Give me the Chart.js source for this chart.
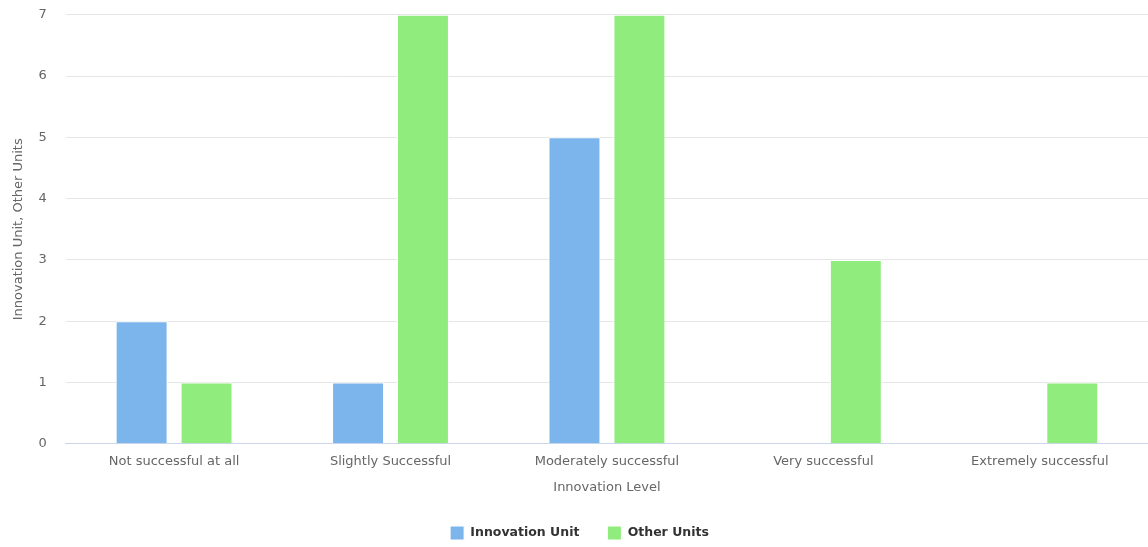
<!DOCTYPE html>
<html>
<head>
<meta charset="utf-8">
<title>Innovation Level</title>
<script src="https://cdn.jsdelivr.net/npm/chart.js@4"></script>
<style>
    html, body { margin: 0; padding: 0; background: #ffffff; }
    #wrap { width: 1148px; height: 547px; overflow: hidden; position: relative; }
    /* canvas overhangs the frame a little so the gridlines and legend sit where they should */
    #inner { position: absolute; left: 0; top: -12px; width: 1148px; height: 562px; }
</style>
</head>
<body>
<div id="wrap"><div id="inner"><canvas id="levelChart"></canvas></div></div>
<script>
// Responses per success level
const levels = ['Not successful at all', 'Slightly Successful', 'Moderately successful', 'Very successful', 'Extremely successful'];
const innovationUnit = [2, 1, 5, 0, 0];
const otherUnits = [1, 7, 7, 3, 1];
const yTicks = [0, 1, 2, 3, 4, 5, 6, 7];

const fontFamily = '"DejaVu Sans", "Open Sans", sans-serif';

const ctx = document.getElementById('levelChart');

new Chart(ctx, {
    type: 'bar',
    data: {
        labels: levels,
        datasets: [
            {
                label: 'Innovation Unit',
                data: innovationUnit,
                backgroundColor: '#7cb5ec',
                borderColor: '#ffffff',
                borderWidth: 1
            },
            {
                label: 'Other Units',
                data: otherUnits,
                backgroundColor: '#90ed7d',
                borderColor: '#ffffff',
                borderWidth: 1
            }
        ]
    },
    options: {
        responsive: true,
        maintainAspectRatio: false,
        animation: false,
        layout: {
            padding: { top: 0, right: 0, bottom: 0, left: 11 }
        },
        datasets: {
            bar: {
                categoryPercentage: 0.6,
                barPercentage: 0.8
            }
        },
        plugins: {
            legend: {
                position: 'bottom',
                labels: {
                    boxWidth: 14,
                    boxHeight: 14,
                    padding: 28,
                    color: '#333333',
                    font: { family: fontFamily, size: 12.5, weight: 'bold' }
                }
            },
            tooltip: { enabled: false }
        },
        scales: {
            x: {
                grid: { display: false, drawTicks: false },
                border: { display: true, color: '#ccd6eb', width: 1 },
                ticks: {
                    color: '#666666',
                    padding: 10,
                    maxRotation: 0,
                    font: { family: fontFamily, size: 13 }
                },
                title: {
                    display: true,
                    text: 'Innovation Level',
                    color: '#666666',
                    padding: { top: 0, bottom: 3 },
                    font: { family: fontFamily, size: 13 }
                }
            },
            y: {
                min: 0,
                max: 7,
                afterBuildTicks: function(axis) {
                    axis.ticks = yTicks.map(v => ({ value: v }));
                },
                grid: {
                    color: '#e6e6e6',
                    drawTicks: false
                },
                border: { display: false },
                ticks: {
                    color: '#666666',
                    padding: 19,
                    font: { family: fontFamily, size: 13 }
                },
                title: {
                    display: true,
                    text: 'Innovation Unit, Other Units',
                    color: '#666666',
                    padding: { top: 0, bottom: -7 },
                    font: { family: fontFamily, size: 13 }
                }
            }
        }
    }
});
</script>
</body>
</html>
